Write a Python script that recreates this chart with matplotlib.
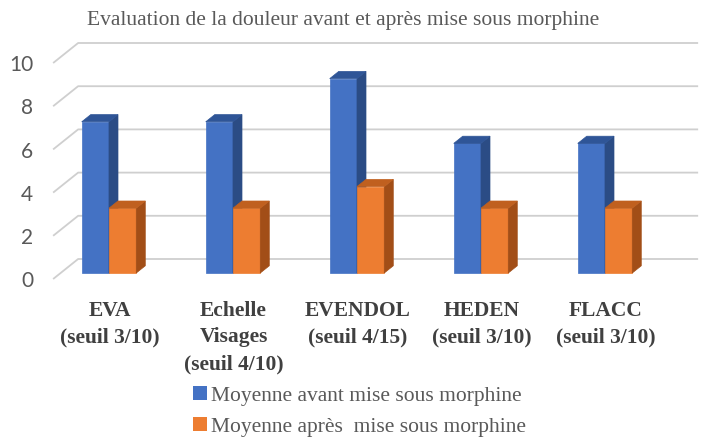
import matplotlib
matplotlib.use("Agg")
import matplotlib.pyplot as plt
from matplotlib.patches import Polygon, Patch

# data
categories = ["EVA\n(seuil 3/10)", "Echelle\nVisages\n(seuil 4/10)", "EVENDOL\n(seuil 4/15)",
              "HEDEN\n(seuil 3/10)", "FLACC\n(seuil 3/10)"]
avant = [7, 7, 9, 6, 6]
apres = [3, 3, 4, 3, 3]
yticks = [0, 2, 4, 6, 8, 10]
series_labels = ["Moyenne avant mise sous morphine", "Moyenne après  mise sous morphine"]

# colours: front, side, top
blue = ("#4472C4", "#2B4C85", "#2F5597")
orange = ("#ED7D31", "#A24E17", "#C0601F")

# fake 3d geometry (data units)
DX, DY = 0.2016, 0.926      # full depth of the floor
F0, BD = 0.30, 0.36         # bar front position / bar depth (fraction of full depth)
XL, XR = -0.39, 4.61        # front floor edges
BW = 0.22                   # bar width

fig = plt.figure(figsize=(7.05, 4.4), dpi=100)
ax = fig.add_axes([0, 0, 1, 1])
ax.set_xlim(-0.8185, 4.867)
ax.set_ylim(-7.454, 12.917)
ax.axis("off")

# back wall gridlines
for v in yticks:
    ax.plot([XL, XL + DX, XR + DX], [v, v + DY, v + DY], color="#CFCFCF", lw=1.3,
            solid_capstyle="butt", zorder=1)
    ax.text(XL - 0.16, v - 0.1, str(v), ha="right", va="center", fontsize=15,
            family="Lato", color="#595959")


def bar3d(x0, h, cols):
    fx, fy = x0 + F0 * DX, F0 * DY
    bx, by = BD * DX, BD * DY
    front = [(fx, fy), (fx + BW, fy), (fx + BW, fy + h), (fx, fy + h)]
    side = [(fx + BW, fy), (fx + BW + bx, fy + by), (fx + BW + bx, fy + h + by), (fx + BW, fy + h)]
    top = [(fx, fy + h), (fx + BW, fy + h), (fx + BW + bx, fy + h + by), (fx + bx, fy + h + by)]
    for pts, c in zip([front, side, top], cols):
        ax.add_patch(Polygon(pts, closed=True, facecolor=c, edgecolor=c, lw=0.5, zorder=2))


for i in range(len(categories)):
    bar3d(i - BW, avant[i], blue)
    bar3d(i, apres[i], orange)
    ax.text(i + 0.065, -1.0, categories[i], ha="center", va="top", fontsize=15.5,
            family="Liberation Serif", fontweight="bold", color="#404040", linespacing=1.45)

fig.text(343.5 / 705, 1 - 25 / 440, "Evaluation de la douleur avant et après mise sous morphine",
         ha="center", va="baseline", fontsize=15.5, family="Liberation Serif", color="#595959")

handles = [Patch(facecolor=blue[0]), Patch(facecolor=orange[0])]
fig.legend(handles, series_labels, loc="upper left", bbox_to_anchor=(193 / 705, 1 - 386 / 440),
           frameon=False, borderpad=0, borderaxespad=0, handlelength=0.65, handleheight=0.65,
           handletextpad=0.2, labelspacing=0.52,
           prop={"family": "Liberation Serif", "size": 15.5}, labelcolor="#595959")

fig.savefig("out.png", dpi=100)
